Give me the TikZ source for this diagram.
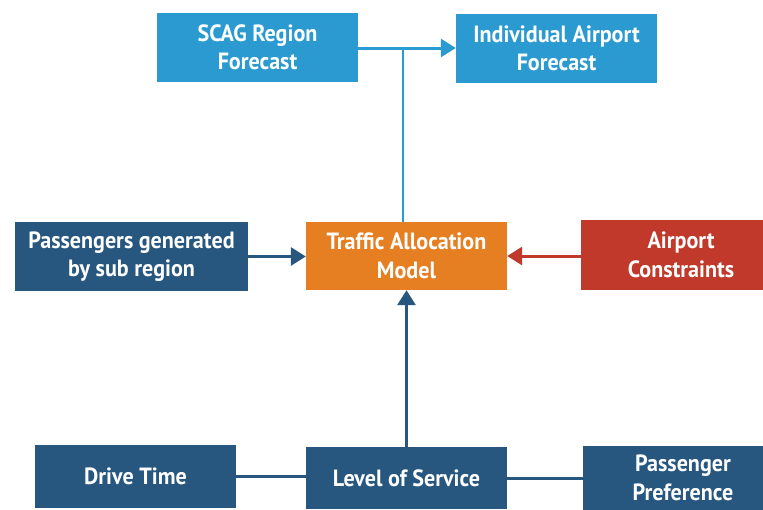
\documentclass[tikz,border=0pt]{standalone}
\usepackage{fontspec}
\setmainfont{PT Sans}[FakeStretch=0.94]
\usetikzlibrary{arrows.meta}
\definecolor{lblue}{HTML}{2B9AD1}
\definecolor{dblue}{HTML}{27567F}
\definecolor{orng}{HTML}{E67E22}
\definecolor{rred}{HTML}{C0392B}
\begin{document}
\begin{tikzpicture}[x=1pt,y=-1pt,
  box/.style={inner sep=0pt,align=center,text=white,font=\fontsize{23.5}{28.5}\selectfont\bfseries},
  conn/.style={line width=3pt},
  tip/.style={-{Triangle[length=15pt,width=18pt]}}]
\useasboundingbox (0,0) rectangle (763,509);
\node[box,fill=lblue,minimum width=201pt,minimum height=69pt] (scag) at (257.5,47.5) {SCAG Region\\Forecast};
\node[box,fill=lblue,minimum width=201pt,minimum height=69pt] (ind) at (556.5,48.5) {Individual Airport\\Forecast};
\node[box,fill=dblue,minimum width=233pt,minimum height=69pt] (pas) at (131.5,256.5) {Passengers generated\\by sub region};
\node[box,fill=orng,minimum width=201pt,minimum height=68pt] (tam) at (406.5,256) {Traffic Allocation\\Model};
\node[box,fill=rred,minimum width=200pt,minimum height=70pt] (apc) at (681,255) {Airport\\Constraints};
\node[box,fill=dblue,minimum width=201pt,minimum height=63pt] (drv) at (135.5,476.5) {Drive Time};
\node[box,fill=dblue,minimum width=201pt,minimum height=62pt] (los) at (406.5,478) {Level of Service};
\node[box,fill=dblue,minimum width=200pt,minimum height=64pt] (ppr) at (683,478) {Passenger\\Preference};
\coordinate (j) at (403,48);
\draw[conn,lblue,tip] (scag.east |- j) -- (ind.west |- j);
\draw[lblue,line width=2.5pt] (j) -- (j |- tam.north);
\draw[conn,dblue,tip] (pas.east) -- (tam.west |- pas.east);
\draw[conn,rred,tip] (apc.west |- tam.center) -- (tam.east);
\draw[conn,dblue,tip] (los.north) -- (tam.south);
\draw[conn,dblue] (drv.east) -- (los.west |- drv.east);
\draw[conn,dblue] (los.east) -- (ppr.west |- los.east);
\end{tikzpicture}
\end{document}
